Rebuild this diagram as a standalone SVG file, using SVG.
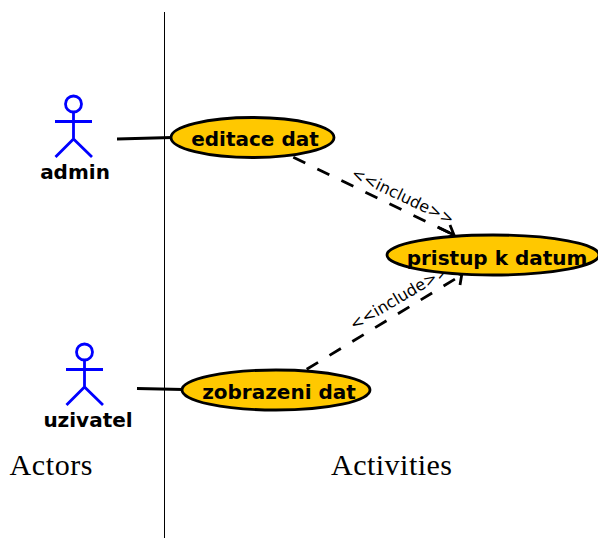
<svg xmlns="http://www.w3.org/2000/svg" width="598" height="538" viewBox="0 0 598 538">
<style>
.actor{fill:none;stroke:#0000ff;stroke-width:2.8}
.uc{fill:#ffc800;stroke:#000;stroke-width:2.8}
.b{font-family:"DejaVu Sans",sans-serif;font-weight:bold;font-size:20px;fill:#000;text-anchor:middle}
.inc{font-family:"DejaVu Sans",sans-serif;font-size:16px;fill:#000;text-anchor:middle}
.cap{font-family:"Liberation Serif",serif;font-size:30px;fill:#000;text-anchor:middle}
.c{fill:none;stroke:#000;stroke-width:2.8}
.d{stroke-dasharray:13.3 13.4}
</style>
<rect width="598" height="538" fill="#fff"/>
<line x1="164.500" y1="12" x2="164.500" y2="538" stroke="#000" stroke-width="1"/>
<g id="connectors">
<line class="c" x1="117" y1="139" x2="172" y2="137.500"/>
<line class="c" x1="137" y1="388.500" x2="183" y2="389.500"/>
<line class="c d" x1="293.300" y1="157.300" x2="454" y2="235"/>
<path class="c" d="M438 227.300L454 235M450 225L454 235L441 240"/>
<line class="c d" x1="306.700" y1="369.300" x2="461.700" y2="275"/>
<path class="c" d="M449 270L461.700 275L460 285"/>
<text class="inc" transform="translate(400.500 201) rotate(25.600)">&lt;&lt;include&gt;&gt;</text>
<text class="inc" transform="translate(402 302) rotate(-30.600)">&lt;&lt;include&gt;&gt;</text>
</g>
<g id="admin">
<circle class="actor" cx="73.500" cy="104" r="8"/>
<path class="actor" d="M73.500 112V139M55 121.500H92M55.500 157L73.500 139L92 157"/>
<text class="b" x="75" y="179">admin</text>
</g>
<g id="uzivatel">
<circle class="actor" cx="84.500" cy="352" r="8"/>
<path class="actor" d="M84.500 360V387M66 369.500H103M66.500 405L84.500 387L103 405"/>
<text class="b" x="88" y="427">uzivatel</text>
</g>
<g id="editace">
<ellipse class="uc" cx="252.500" cy="137.500" rx="81.500" ry="20"/>
<text class="b" x="255" y="146">editace dat</text>
</g>
<g id="pristup">
<ellipse class="uc" cx="493" cy="255" rx="106" ry="20"/>
<text class="b" x="497" y="265">pristup k datum</text>
</g>
<g id="zobrazeni">
<ellipse class="uc" cx="276" cy="390" rx="94" ry="20"/>
<text class="b" x="279" y="399">zobrazeni dat</text>
</g>
<text class="cap" x="51" y="475" textLength="83" lengthAdjust="spacing">Actors</text>
<text class="cap" x="391.500" y="475" textLength="121" lengthAdjust="spacing">Activities</text>
</svg>
